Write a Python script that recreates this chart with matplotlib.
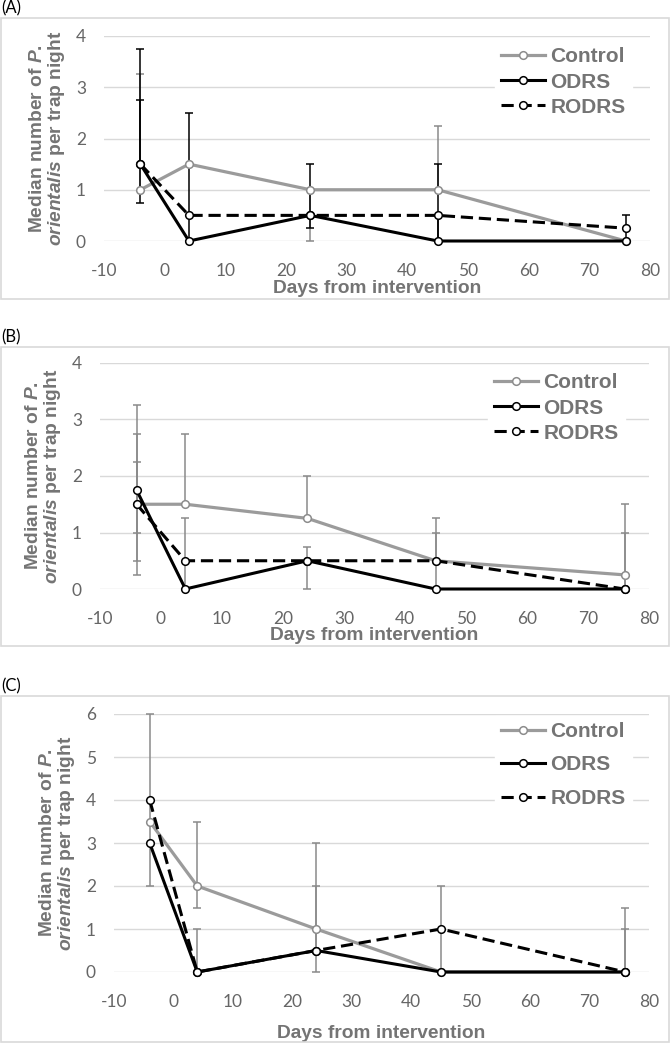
import numpy as np
import matplotlib
matplotlib.use("Agg")
import matplotlib.pyplot as plt
from matplotlib.patches import Rectangle

plt.rcParams['mathtext.fontset'] = 'custom'
plt.rcParams['mathtext.it'] = 'Liberation Sans:italic:bold'
plt.rcParams['mathtext.rm'] = 'Liberation Sans:bold'
plt.rcParams['axes.unicode_minus'] = False

# ---- data ----
days = [-4, 4, 24, 45, 76]
series_names = ['Control', 'ODRS', 'RODRS']

# panel A
ctrl_a = [1, 1.5, 1, 1, 0]
odrs_a = [1.5, 0, 0.5, 0, 0]
rodrs_a = [1.5, 0.5, 0.5, 0.5, 0.25]
ctrl_a_lo = [1, 1.5, 0, 1, 0]
ctrl_a_hi = [3.25, 1.5, 1, 2.25, 0]
odrs_a_lo = [0.75, 0, 0.25, 0, 0]
odrs_a_hi = [3.75, 0, 1.5, 1.5, 0]
rodrs_a_lo = [1.5, 0, 0.5, 0, 0]
rodrs_a_hi = [2.75, 2.5, 0.5, 0.5, 0.5]

# panel B
ctrl_b = [1.5, 1.5, 1.25, 0.5, 0.25]
odrs_b = [1.75, 0, 0.5, 0, 0]
rodrs_b = [1.5, 0.5, 0.5, 0.5, 0]
ctrl_b_lo = [0.25, 1.5, 1.25, 0.5, 0]
ctrl_b_hi = [3.25, 2.75, 2.0, 1.25, 1.5]
odrs_b_lo = [1.0, 0, 0, 0, 0]
odrs_b_hi = [2.75, 0, 0.75, 0, 0]
rodrs_b_lo = [0.5, 0, 0.5, 0, 0]
rodrs_b_hi = [2.25, 1.25, 0.5, 1.0, 1.0]

# panel C
ctrl_c = [3.5, 2, 1, 0, 0]
odrs_c = [3, 0, 0.5, 0, 0]
rodrs_c = [4, 0, 0.5, 1, 0]
ctrl_c_lo = [2, 1.5, 0, 0, 0]
ctrl_c_hi = [6, 3.5, 3, 0, 1.5]
odrs_c_lo = [3, 0, 0.5, 0, 0]
odrs_c_hi = [3, 1, 2, 0, 0]
rodrs_c_lo = [4, 0, 0.5, 0, 0]
rodrs_c_hi = [4, 0, 0.5, 2, 1]

x_ticks = [-10, 0, 10, 20, 30, 40, 50, 60, 70, 80]

W, H = 670, 1044
GRAY_LINE = '#9b9b9b'
GRAY_TXT = '#747474'
TICK_TXT = '#666666'
ERR_GRAY = '#8a8a8a'


def fx(px):
    return px / W


def fy(py):
    return 1 - py / H


def draw_err(ax, y, lo, hi, color):
    y, lo, hi = np.array(y), np.array(lo), np.array(hi)
    x = np.array(days)
    m = hi > lo
    ax.vlines(x[m], lo[m], hi[m], color=color, lw=1.1, zorder=2)
    up = hi > y
    dn = lo < y
    ax.plot(x[up], hi[up], '_', color=color, ms=6, mew=1.1, zorder=2, clip_on=False)
    ax.plot(x[dn], lo[dn], '_', color=color, ms=6, mew=1.1, zorder=2, clip_on=False)


def make_panel(box, ax_px, label, vals, errs, err_colors, ymax, leg_px, leg_space):
    # box frame
    x0, y0, x1, y1 = box
    fig.add_artist(Rectangle((fx(x0), fy(y1)), fx(x1) - fx(x0), fy(y0) - fy(y1),
                             transform=fig.transFigure, fill=False,
                             edgecolor='#d9d9d9', lw=1.2))
    fig.text(fx(1), fy(y0 - 10), label, fontsize=12, family='Lato',
             va='center', ha='left', color='black')

    l, r, t, b = ax_px
    ax = fig.add_axes([fx(l), fy(b), fx(r) - fx(l), fy(t) - fy(b)])

    for (lo, hi), c, v in zip(errs, err_colors, vals):
        draw_err(ax, v, lo, hi, c)

    ax.plot(days, vals[0], color=GRAY_LINE, lw=2.3, marker='o', ms=5.5,
            mfc='white', mec='#8c8c8c', mew=1.1, label='Control', zorder=3, clip_on=False)
    ax.plot(days, vals[1], color='black', lw=2.2, marker='o', ms=5.5,
            mfc='white', mec='black', mew=1.1, label='ODRS', zorder=4, clip_on=False)
    ax.plot(days, vals[2], color='black', lw=2.2, ls=(0, (4, 1.9)), marker='o', ms=5.5,
            mfc='white', mec='black', mew=1.1, label='RODRS', zorder=5, clip_on=False)

    ax.set_xlim(-10, 80)
    ax.set_ylim(0, ymax)
    ax.set_xticks(x_ticks)
    ax.set_yticks(range(0, ymax + 1))
    ax.grid(axis='y', color='#d9d9d9', lw=1)
    ax.set_axisbelow(True)
    for s in ax.spines.values():
        s.set_visible(False)
    ax.tick_params(axis='x', length=0, labelcolor=TICK_TXT, labelsize=12.5, pad=16)
    ax.tick_params(axis='y', length=0, labelcolor=TICK_TXT, labelsize=12.5, pad=13)
    for lab in ax.get_xticklabels() + ax.get_yticklabels():
        lab.set_family('Lato')
    ax.set_xlabel('Days from intervention', fontsize=13.8, fontweight='bold',
                  color=GRAY_TXT, family='Liberation Sans', labelpad=leg_space[1])
    ax.set_ylabel('Median number of $\\mathit{P.}$\n$\\mathit{orientalis}$ per trap night',
                  fontsize=13.8, fontweight='bold', color=GRAY_TXT,
                  family='Liberation Sans', labelpad=6, linespacing=1.0)

    leg = ax.legend(loc='center left', bbox_to_anchor=(fx(leg_px[0]), fy(leg_px[1])),
                    bbox_transform=fig.transFigure, frameon=True, framealpha=1,
                    edgecolor='white', facecolor='white', fancybox=False,
                    handlelength=2.1, handletextpad=0.25, labelspacing=leg_space[0],
                    borderaxespad=0, borderpad=0.3,
                    prop={'family': ['Liberation Sans Narrow', 'Liberation Sans'],
                          'weight': 'bold', 'size': 15})
    for txt in leg.get_texts():
        txt.set_color(GRAY_TXT)
    return ax


fig = plt.figure(figsize=(W / 100, H / 100), dpi=100)

make_panel((1, 18, 669, 299), (104, 650, 36, 241), '(A)',
           [ctrl_a, odrs_a, rodrs_a],
           [(ctrl_a_lo, ctrl_a_hi), (odrs_a_lo, odrs_a_hi), (rodrs_a_lo, rodrs_a_hi)],
           [ERR_GRAY, 'black', 'black'], 4, (495, 82), (0.3, 0.5))

make_panel((1, 347, 669, 646), (100, 649, 363, 589), '(B)',
           [ctrl_b, odrs_b, rodrs_b],
           [(ctrl_b_lo, ctrl_b_hi), (odrs_b_lo, odrs_b_hi), (rodrs_b_lo, rodrs_b_hi)],
           [ERR_GRAY, ERR_GRAY, ERR_GRAY], 4, (488, 408), (0.3, 0))

make_panel((1, 696, 669, 1042), (114, 649, 714, 972), '(C)',
           [ctrl_c, odrs_c, rodrs_c],
           [(ctrl_c_lo, ctrl_c_hi), (odrs_c_lo, odrs_c_hi), (rodrs_c_lo, rodrs_c_hi)],
           [ERR_GRAY, ERR_GRAY, ERR_GRAY], 6, (495, 765), (0.7, 10.5))

fig.savefig('out.png', dpi=100)
